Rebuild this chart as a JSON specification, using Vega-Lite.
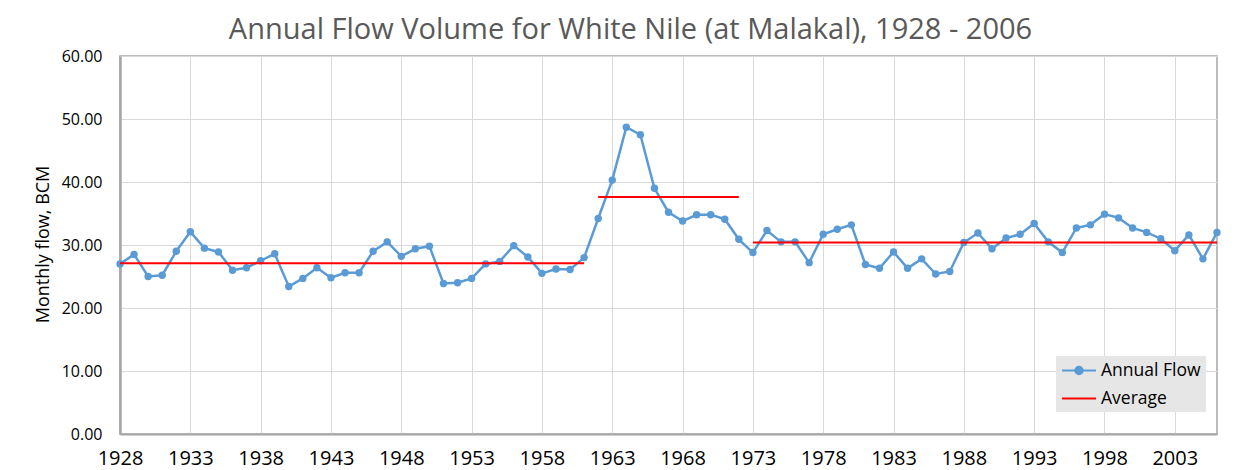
{
  "$schema": "https://vega.github.io/schema/vega-lite/v6.json",
  "autosize": "none",
  "padding": {"left": 120, "top": 56, "right": 34, "bottom": 36},
  "width": 1097,
  "height": 378,
  "background": "white",
  "config": {
    "font": "Open Sans",
    "view": {"stroke": "#a6a6a6", "strokeWidth": 1.5}
  },
  "title": {
    "text": "Annual Flow Volume for White Nile (at Malakal), 1928 - 2006",
    "font": "Open Sans",
    "fontSize": 29,
    "fontWeight": "normal",
    "color": "#595959",
    "anchor": "middle",
    "frame": "group",
    "baseline": "alphabetic",
    "offset": 14,
    "dx": -38,
    "dy": 34
  },
  "datasets": {
    "flow": [
      {"year": 1928, "flow": 27.0}, {"year": 1929, "flow": 28.5}, {"year": 1930, "flow": 25.0},
      {"year": 1931, "flow": 25.2}, {"year": 1932, "flow": 29.0}, {"year": 1933, "flow": 32.1},
      {"year": 1934, "flow": 29.5}, {"year": 1935, "flow": 28.9}, {"year": 1936, "flow": 26.0},
      {"year": 1937, "flow": 26.4}, {"year": 1938, "flow": 27.5}, {"year": 1939, "flow": 28.6},
      {"year": 1940, "flow": 23.4}, {"year": 1941, "flow": 24.7}, {"year": 1942, "flow": 26.4},
      {"year": 1943, "flow": 24.8}, {"year": 1944, "flow": 25.6}, {"year": 1945, "flow": 25.6},
      {"year": 1946, "flow": 29.0}, {"year": 1947, "flow": 30.5}, {"year": 1948, "flow": 28.2},
      {"year": 1949, "flow": 29.4}, {"year": 1950, "flow": 29.8}, {"year": 1951, "flow": 23.9},
      {"year": 1952, "flow": 24.0}, {"year": 1953, "flow": 24.7}, {"year": 1954, "flow": 27.0},
      {"year": 1955, "flow": 27.4}, {"year": 1956, "flow": 29.9}, {"year": 1957, "flow": 28.1},
      {"year": 1958, "flow": 25.5}, {"year": 1959, "flow": 26.2}, {"year": 1960, "flow": 26.1},
      {"year": 1961, "flow": 28.0}, {"year": 1962, "flow": 34.2}, {"year": 1963, "flow": 40.3},
      {"year": 1964, "flow": 48.7}, {"year": 1965, "flow": 47.5}, {"year": 1966, "flow": 39.0},
      {"year": 1967, "flow": 35.2}, {"year": 1968, "flow": 33.8}, {"year": 1969, "flow": 34.8},
      {"year": 1970, "flow": 34.8}, {"year": 1971, "flow": 34.1}, {"year": 1972, "flow": 30.9},
      {"year": 1973, "flow": 28.8}, {"year": 1974, "flow": 32.3}, {"year": 1975, "flow": 30.5},
      {"year": 1976, "flow": 30.5}, {"year": 1977, "flow": 27.2}, {"year": 1978, "flow": 31.7},
      {"year": 1979, "flow": 32.5}, {"year": 1980, "flow": 33.2}, {"year": 1981, "flow": 26.9},
      {"year": 1982, "flow": 26.3}, {"year": 1983, "flow": 28.9}, {"year": 1984, "flow": 26.3},
      {"year": 1985, "flow": 27.8}, {"year": 1986, "flow": 25.4}, {"year": 1987, "flow": 25.8},
      {"year": 1988, "flow": 30.4}, {"year": 1989, "flow": 31.9}, {"year": 1990, "flow": 29.4},
      {"year": 1991, "flow": 31.1}, {"year": 1992, "flow": 31.7}, {"year": 1993, "flow": 33.4},
      {"year": 1994, "flow": 30.5}, {"year": 1995, "flow": 28.8}, {"year": 1996, "flow": 32.7},
      {"year": 1997, "flow": 33.2}, {"year": 1998, "flow": 34.9}, {"year": 1999, "flow": 34.3},
      {"year": 2000, "flow": 32.7}, {"year": 2001, "flow": 32.0}, {"year": 2002, "flow": 31.0},
      {"year": 2003, "flow": 29.1}, {"year": 2004, "flow": 31.6}, {"year": 2005, "flow": 27.8},
      {"year": 2006, "flow": 32.0}
    ],
    "avg": [
      {"start": 1928, "end": 1961, "avg": 27.1},
      {"start": 1962, "end": 1972, "avg": 37.6},
      {"start": 1973, "end": 2006, "avg": 30.4}
    ]
  },
  "layer": [
    {
      "data": {"name": "flow"},
      "mark": {
        "type": "line",
        "strokeWidth": 2.5,
        "point": {"filled": true, "size": 55}
      },
      "encoding": {
        "x": {
          "field": "year",
          "type": "quantitative",
          "scale": {"domain": [1928, 2006], "nice": false, "zero": false},
          "axis": {
            "title": null,
            "values": [1928, 1933, 1938, 1943, 1948, 1953, 1958, 1963, 1968, 1973, 1978, 1983, 1988, 1993, 1998, 2003],
            "format": "d",
            "grid": true,
            "gridColor": "#d9d9d9",
            "gridWidth": 1,
            "ticks": false,
            "domainColor": "#a6a6a6",
            "domainWidth": 2,
            "labelFont": "Open Sans",
            "labelFontSize": 20,
            "labelColor": "#000000",
            "labelBaseline": "alphabetic",
            "labelPadding": 30,
            "labelFlush": false,
            "labelOverlap": false
          }
        },
        "y": {
          "field": "flow",
          "type": "quantitative",
          "scale": {"domain": [0, 60], "nice": false},
          "axis": {
            "title": "Monthly flow, BCM",
            "values": [0, 10, 20, 30, 40, 50, 60],
            "format": ".2f",
            "grid": true,
            "gridColor": "#d9d9d9",
            "gridWidth": 1,
            "ticks": false,
            "domainColor": "#a6a6a6",
            "domainWidth": 2.5,
            "labelFont": "Open Sans",
            "labelFontSize": 16,
            "labelColor": "#000000",
            "labelPadding": 18,
            "labelFlush": false,
            "titleFont": "Open Sans",
            "titleFontSize": 18,
            "titleFontWeight": "normal",
            "titleColor": "#000000",
            "titleAngle": -90,
            "titleAlign": "center",
            "titleBaseline": "middle",
            "titleX": -77,
            "titleY": 188
          }
        },
        "color": {
          "datum": "Annual Flow",
          "scale": {"domain": ["Annual Flow", "Average"], "range": ["#5b9bd5", "#ff0000"]},
          "legend": {
            "title": null,
            "orient": "none",
            "legendX": 936,
            "legendY": 300,
            "fillColor": "#e7e6e6",
            "padding": 5,
            "rowPadding": 10,
            "labelFont": "Open Sans",
            "labelFontSize": 17.5,
            "labelColor": "#000000",
            "labelOffset": 21,
            "symbolSize": 289,
            "symbolStrokeWidth": 2,
            "encode": {
              "symbols": {
                "update": {
                  "shape": {"signal": "datum.value === 'Annual Flow' ? 'M-1,0H3M0.56,0A0.44,0.44 0 1,1 1.44,0A0.44,0.44 0 1,1 0.56,0Z' : 'M-1,0H3'"},
                  "fill": {"signal": "datum.value === 'Annual Flow' ? '#5b9bd5' : 'transparent'"},
                  "stroke": {"signal": "datum.value === 'Annual Flow' ? '#5b9bd5' : '#ff0000'"},
                  "strokeWidth": {"value": 2},
                  "size": {"value": 289},
                  "opacity": {"value": 1}
                }
              }
            }
          }
        }
      }
    },
    {
      "data": {"name": "avg"},
      "mark": {"type": "rule", "strokeWidth": 2},
      "encoding": {
        "x": {"field": "start", "type": "quantitative"},
        "x2": {"field": "end"},
        "y": {"field": "avg", "type": "quantitative"},
        "color": {"datum": "Average"}
      }
    }
  ]
}
